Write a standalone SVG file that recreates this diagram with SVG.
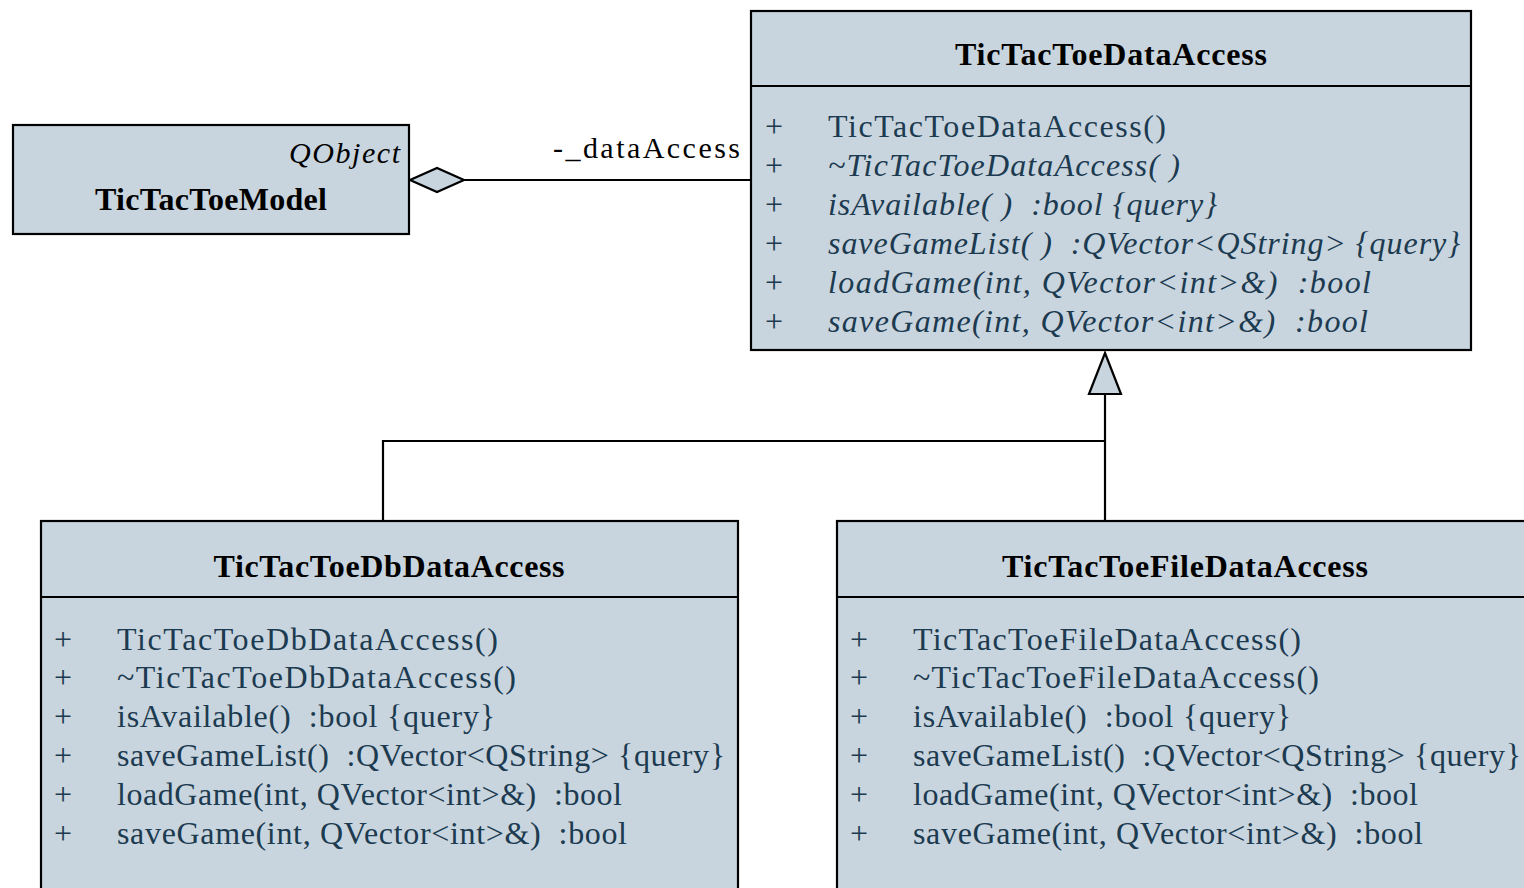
<svg xmlns="http://www.w3.org/2000/svg" width="1524" height="888" viewBox="0 0 1524 888">
  <style>
    .box { fill: #c8d5de; stroke: #000; stroke-width: 2.2; }
    .sep { stroke: #000; stroke-width: 2.2; }
    .line { fill: none; stroke: #000; stroke-width: 2.2; }
    .title { font-family: "Liberation Serif", "Times New Roman", serif; font-size: 32px; font-weight: bold; fill: #000; }
    .stereo { font-family: "Liberation Serif", "Times New Roman", serif; font-size: 30px; font-style: italic; fill: #000; }
    .role { font-family: "Liberation Serif", "Times New Roman", serif; font-size: 30px; fill: #000; }
    .mem { font-family: "Liberation Serif", "Times New Roman", serif; font-size: 32px; fill: #1c3a50; }
    .abs { font-style: italic; }
  </style>
  <rect width="1524" height="888" fill="#ffffff"/>

  <!-- connectors -->
  <g id="connectors">
    <!-- aggregation: model holds a data access object -->
    <line class="line" x1="464" y1="180" x2="751" y2="180"/>
    <polygon points="410,180 437,168 464,180 437,192" fill="#c8d5de" stroke="#000" stroke-width="2.2"/>
    <text class="role" x="740" y="158" text-anchor="end" textLength="187" lengthAdjust="spacing">-_dataAccess</text>
    <!-- generalization: both implementations derive from the data access base -->
    <polyline class="line" points="383,521 383,441 1105,441"/>
    <line class="line" x1="1105" y1="394" x2="1105" y2="521"/>
    <polygon points="1105,353 1121,394 1089,394" fill="#c8d5de" stroke="#000" stroke-width="2.2"/>
  </g>

  <!-- TicTacToeModel -->
  <g id="TicTacToeModel">
    <rect class="box" x="13" y="125" width="396" height="109"/>
    <text class="stereo" x="400" y="163" text-anchor="end" textLength="111" lengthAdjust="spacing">QObject</text>
    <text class="title" x="211" y="210" text-anchor="middle" textLength="232" lengthAdjust="spacing">TicTacToeModel</text>
  </g>

  <!-- TicTacToeDataAccess (abstract base) -->
  <g id="TicTacToeDataAccess">
    <rect class="box" x="751" y="11" width="720" height="339"/>
    <line class="sep" x1="751" y1="86" x2="1471" y2="86"/>
    <text class="title" x="1111" y="65" text-anchor="middle" textLength="312" lengthAdjust="spacing">TicTacToeDataAccess</text>
    <g class="mem">
      <text x="765" y="137">+</text>
      <text x="765" y="176">+</text>
      <text x="765" y="215">+</text>
      <text x="765" y="254">+</text>
      <text x="765" y="293">+</text>
      <text x="765" y="332">+</text>
      <text x="828" y="137" textLength="338" lengthAdjust="spacing">TicTacToeDataAccess()</text>
      <text class="abs" x="828" y="176" textLength="352" lengthAdjust="spacing">~TicTacToeDataAccess( )</text>
      <text class="abs" x="828" y="215" textLength="389" lengthAdjust="spacing">isAvailable( )&#160; :bool {query}</text>
      <text class="abs" x="828" y="254" textLength="632" lengthAdjust="spacing">saveGameList( )&#160; :QVector&lt;QString&gt; {query}</text>
      <text class="abs" x="828" y="293" textLength="543" lengthAdjust="spacing">loadGame(int, QVector&lt;int&gt;&amp;)&#160; :bool</text>
      <text class="abs" x="828" y="332" textLength="540" lengthAdjust="spacing">saveGame(int, QVector&lt;int&gt;&amp;)&#160; :bool</text>
    </g>
  </g>

  <!-- TicTacToeDbDataAccess -->
  <g id="TicTacToeDbDataAccess">
    <rect class="box" x="41" y="521" width="697" height="400"/>
    <line class="sep" x1="41" y1="597" x2="738" y2="597"/>
    <text class="title" x="389" y="577" text-anchor="middle" textLength="351" lengthAdjust="spacing">TicTacToeDbDataAccess</text>
    <g class="mem">
      <text x="54" y="650">+</text>
      <text x="54" y="688">+</text>
      <text x="54" y="727">+</text>
      <text x="54" y="766">+</text>
      <text x="54" y="805">+</text>
      <text x="54" y="844">+</text>
      <text x="117" y="650" textLength="381" lengthAdjust="spacing">TicTacToeDbDataAccess()</text>
      <text x="117" y="688" textLength="399" lengthAdjust="spacing">~TicTacToeDbDataAccess()</text>
      <text x="117" y="727" textLength="378" lengthAdjust="spacing">isAvailable()&#160; :bool {query}</text>
      <text x="117" y="766" textLength="608" lengthAdjust="spacing">saveGameList()&#160; :QVector&lt;QString&gt; {query}</text>
      <text x="117" y="805" textLength="505" lengthAdjust="spacing">loadGame(int, QVector&lt;int&gt;&amp;)&#160; :bool</text>
      <text x="117" y="844" textLength="510" lengthAdjust="spacing">saveGame(int, QVector&lt;int&gt;&amp;)&#160; :bool</text>
    </g>
  </g>

  <!-- TicTacToeFileDataAccess -->
  <g id="TicTacToeFileDataAccess">
    <rect class="box" x="837" y="521" width="697" height="400"/>
    <line class="sep" x1="837" y1="597" x2="1534" y2="597"/>
    <text class="title" x="1185" y="577" text-anchor="middle" textLength="366" lengthAdjust="spacing">TicTacToeFileDataAccess</text>
    <g class="mem">
      <text x="850" y="650">+</text>
      <text x="850" y="688">+</text>
      <text x="850" y="727">+</text>
      <text x="850" y="766">+</text>
      <text x="850" y="805">+</text>
      <text x="850" y="844">+</text>
      <text x="913" y="650" textLength="388" lengthAdjust="spacing">TicTacToeFileDataAccess()</text>
      <text x="913" y="688" textLength="406" lengthAdjust="spacing">~TicTacToeFileDataAccess()</text>
      <text x="913" y="727" textLength="378" lengthAdjust="spacing">isAvailable()&#160; :bool {query}</text>
      <text x="913" y="766" textLength="608" lengthAdjust="spacing">saveGameList()&#160; :QVector&lt;QString&gt; {query}</text>
      <text x="913" y="805" textLength="505" lengthAdjust="spacing">loadGame(int, QVector&lt;int&gt;&amp;)&#160; :bool</text>
      <text x="913" y="844" textLength="510" lengthAdjust="spacing">saveGame(int, QVector&lt;int&gt;&amp;)&#160; :bool</text>
    </g>
  </g>
</svg>
